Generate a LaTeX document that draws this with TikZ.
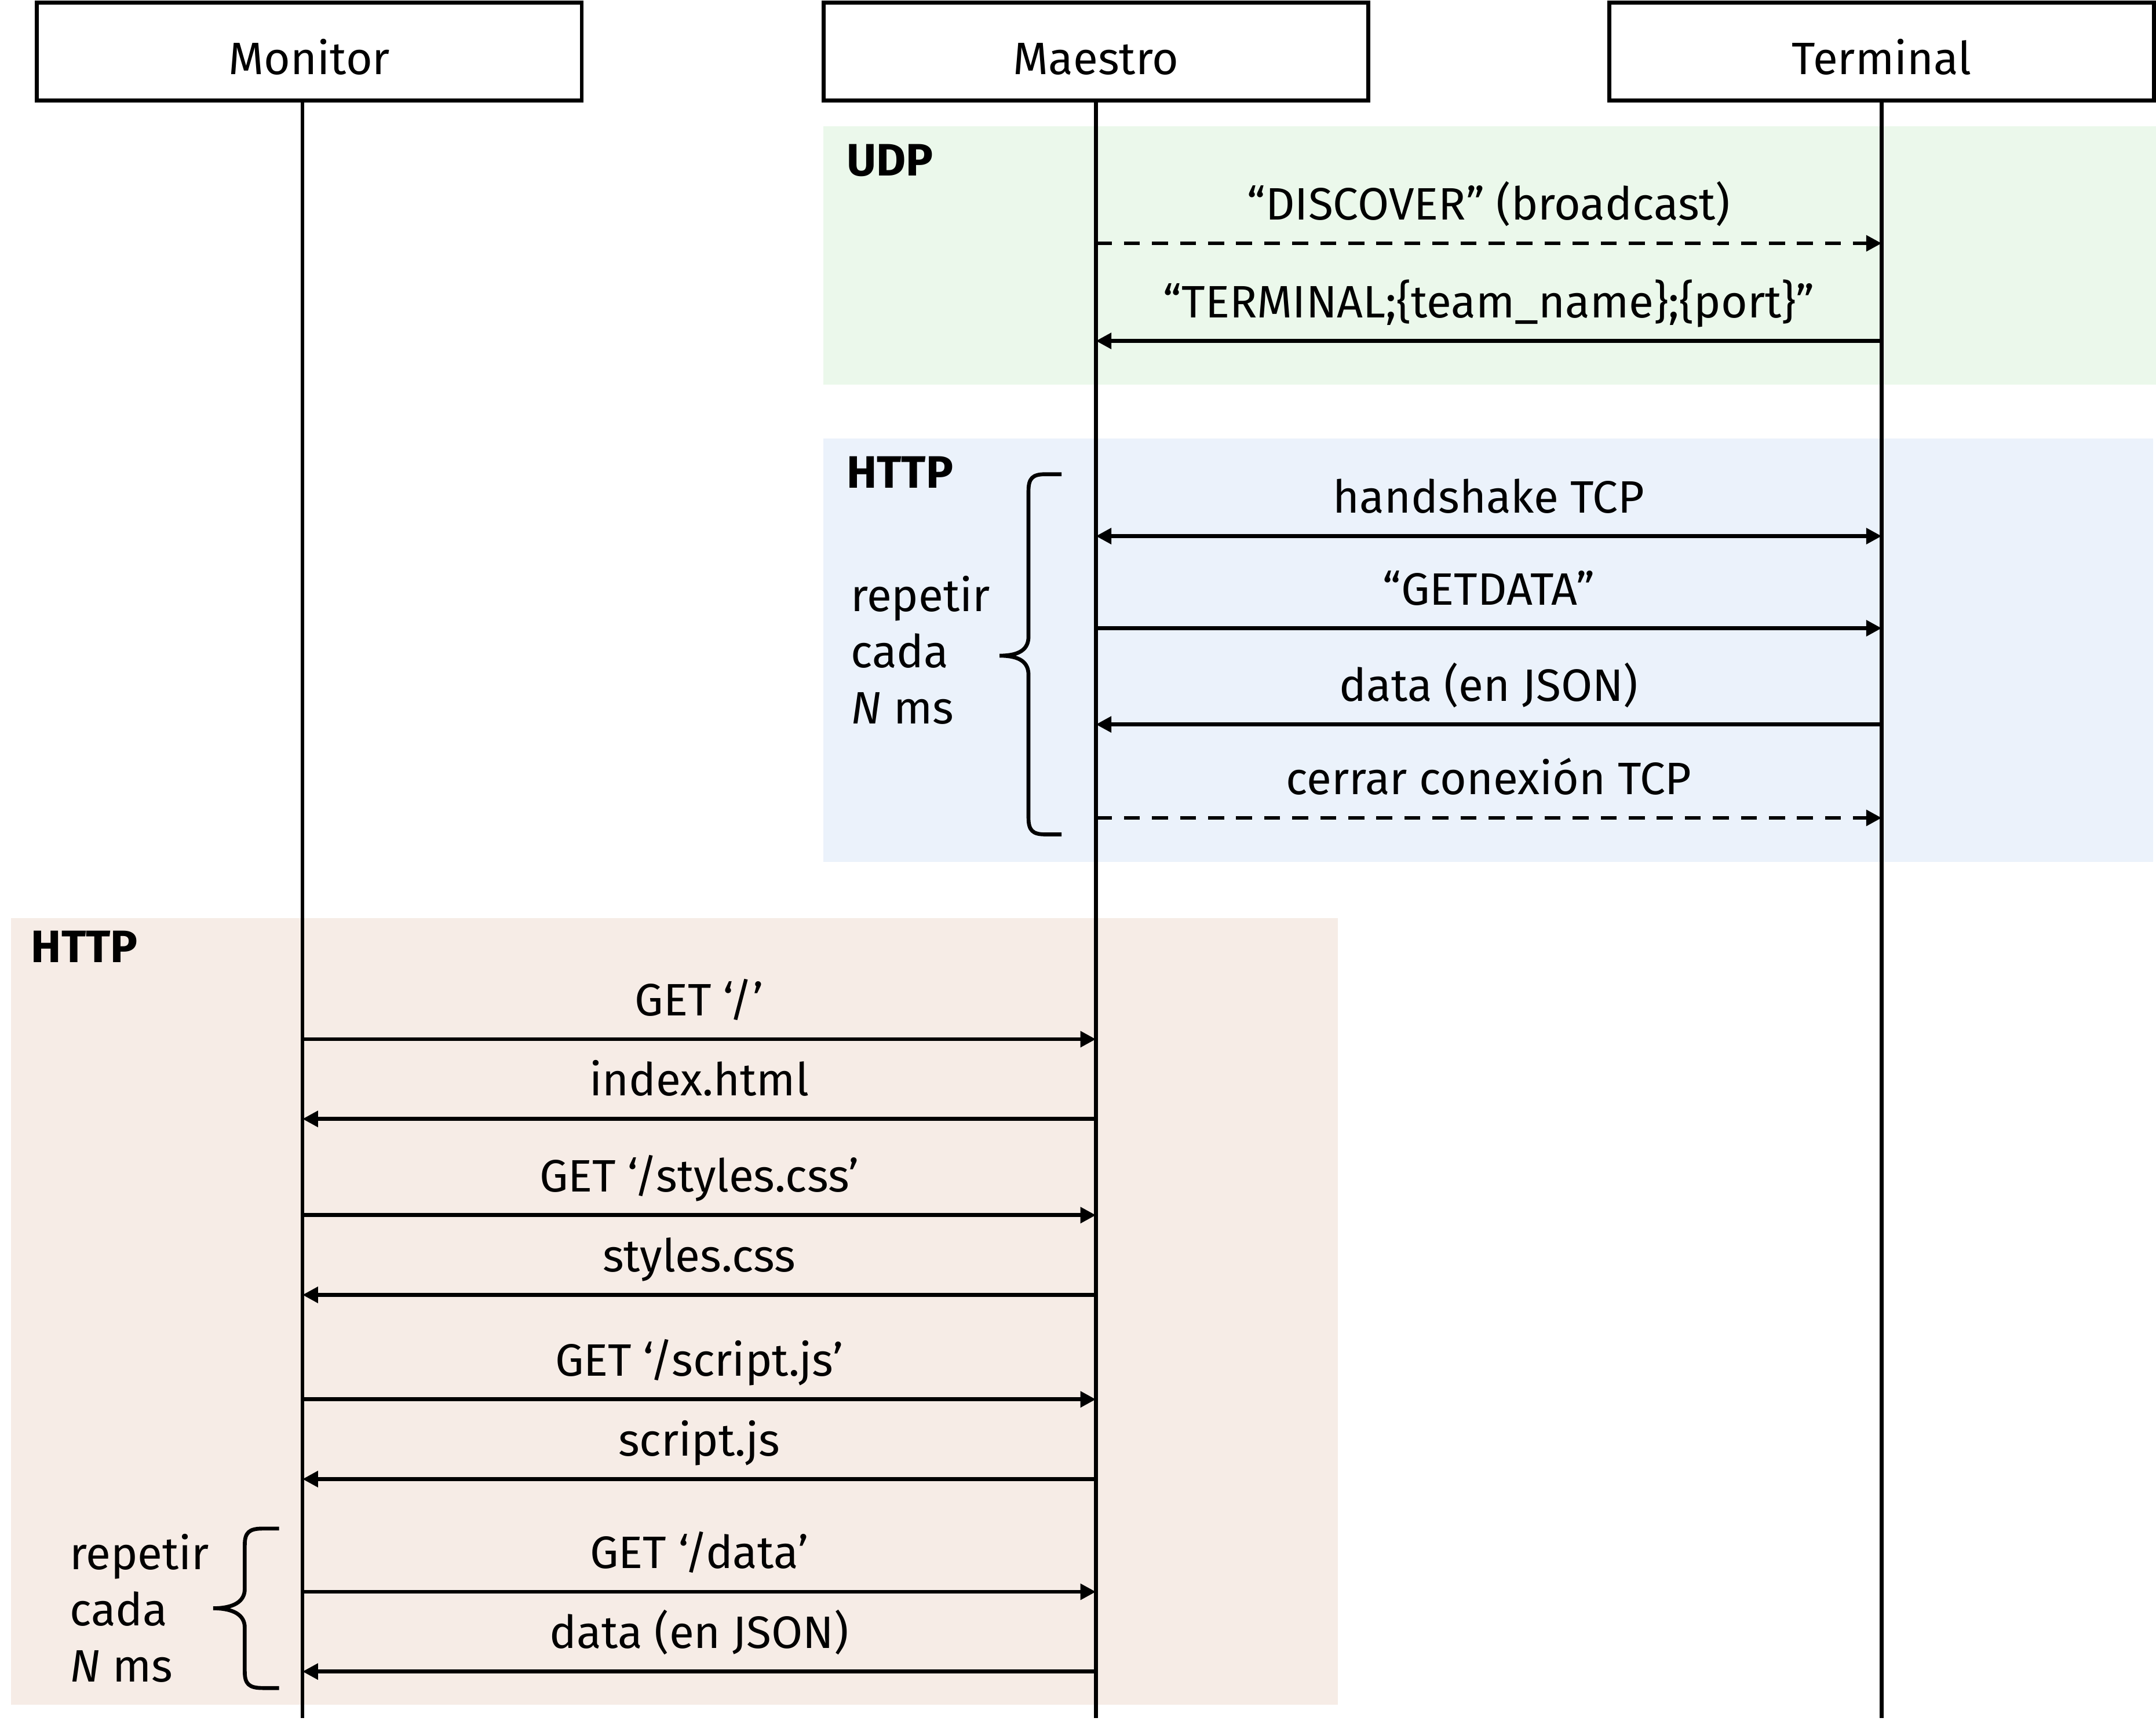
\documentclass[tikz,border=0pt]{standalone}
\usepackage{fontspec}
\setmainfont{Fira Sans}
\usetikzlibrary{arrows.meta}

\definecolor{udpbg}{HTML}{EBF8EB}
\definecolor{tcpbg}{HTML}{EBF2FB}
\definecolor{webbg}{HTML}{F6ECE6}

\begin{document}
\begin{tikzpicture}[x=0.01cm, y=-0.01cm,
    every node/.style={font=\fontsize{9.4}{11.6}\selectfont},
    actor/.style={draw, fill=white, line width=0.8pt, minimum width=3.96cm, minimum height=0.71cm,
      inner sep=0pt, text height=9.4pt, text depth=0pt},
    life/.style={line width=0.8pt},
    msg/.style={line width=0.8pt, -{Triangle[length=3.2pt,width=3.2pt]}},
    both/.style={line width=0.8pt, {Triangle[length=3.2pt,width=3.2pt]}-{Triangle[length=3.2pt,width=3.2pt]}},
    async/.style={dash pattern=on 3.3pt off 2.5pt},
    lbl/.style={midway, anchor=base, yshift=0.17cm, inner sep=0pt},
    tag/.style={anchor=base west, inner sep=0pt, font=\fontsize{9.4}{11.6}\selectfont\bfseries},
    rep/.style={anchor=west, align=left, inner sep=0pt}]
    \useasboundingbox (0,0) rectangle (1568,1254.6);

    % bands
    \fill[udpbg] (599,92) rectangle (1568,280);
    \fill[tcpbg] (599,319) rectangle (1566,627);
    \fill[webbg] (8,668) rectangle (973,1240);

    % actors
    \node[actor] (mon) at (225,37.5) {Monitor};
    \node[actor] (mae) at (797,37.5) {Maestro};
    \node[actor] (ter) at (1368.5,37.5) {Terminal};

    \coordinate (monl) at ([xshift=-0.05cm]mon.south);
    \coordinate (bot) at (0,1250);
    \draw[life] (monl) -- (monl |- bot);
    \draw[life] (mae.south) -- (mae.south |- bot);
    \draw[life] (ter.south) -- (ter.south |- bot);

    % rows
    \foreach \n/\y in {udp1/177, udp2/248, tcp1/390, tcp2/457, tcp3/527, tcp4/595,
                       web1/756, web2/814, web3/884, web4/942, web5/1018, web6/1076,
                       web7/1158, web8/1216}
      \coordinate (\n) at (0,\y);

    % UDP
    \node[tag] (udp) at (615,128) {UDP};
    \draw[msg, async] (mae |- udp1) -- node[lbl] {“DISCOVER” (broadcast)} (ter |- udp1);
    \draw[msg] (ter |- udp2) -- node[lbl] {“TERMINAL;\{team\_name\};\{port\}”} (mae |- udp2);

    % HTTP maestro - terminal
    \node[tag] (http1) at (615,355) {HTTP};
    \node[rep] (rep1) at (618,473) {repetir\\cada\\\textit{N} ms};
    \draw[life] (772,345) -- (760,345) .. controls (751,345) and (748,348) .. (748,357) -- (748,463)
      .. controls (748,472) and (742,477) .. (727,477) .. controls (742,477) and (748,482) .. (748,491)
      -- (748,595) .. controls (748,604) and (751,607) .. (760,607) -- (772,607);
    \draw[both] (mae |- tcp1) -- node[lbl] {handshake TCP} (ter |- tcp1);
    \draw[msg] (mae |- tcp2) -- node[lbl] {“GETDATA”} (ter |- tcp2);
    \draw[msg] (ter |- tcp3) -- node[lbl] {data (en JSON)} (mae |- tcp3);
    \draw[msg, async] (mae |- tcp4) -- node[lbl] {cerrar conexión TCP} (ter |- tcp4);

    % HTTP monitor - maestro
    \node[tag] (http2) at (22,700) {HTTP};
    \draw[msg] (monl |- web1) -- node[lbl] {GET ‘/’} (mae |- web1);
    \draw[msg] (mae |- web2) -- node[lbl] {index.html} (monl |- web2);
    \draw[msg] (monl |- web3) -- node[lbl] {GET ‘/styles.css’} (mae |- web3);
    \draw[msg] (mae |- web4) -- node[lbl] {styles.css} (monl |- web4);
    \draw[msg] (monl |- web5) -- node[lbl] {GET ‘/script.js’} (mae |- web5);
    \draw[msg] (mae |- web6) -- node[lbl] {script.js} (monl |- web6);
    \draw[msg] (monl |- web7) -- node[lbl] {GET ‘/data’} (mae |- web7);
    \draw[msg] (mae |- web8) -- node[lbl] {data (en JSON)} (monl |- web8);

    \node[rep] (rep2) at (50,1170) {repetir\\cada\\\textit{N} ms};
    \draw[life] (203,1112) -- (191,1112) .. controls (181,1112) and (178,1115) .. (178,1124) -- (178,1156)
      .. controls (178,1165) and (170,1170) .. (155,1170) .. controls (170,1170) and (178,1175) .. (178,1184)
      -- (178,1216) .. controls (178,1225) and (181,1228) .. (191,1228) -- (203,1228);
\end{tikzpicture}
\end{document}
